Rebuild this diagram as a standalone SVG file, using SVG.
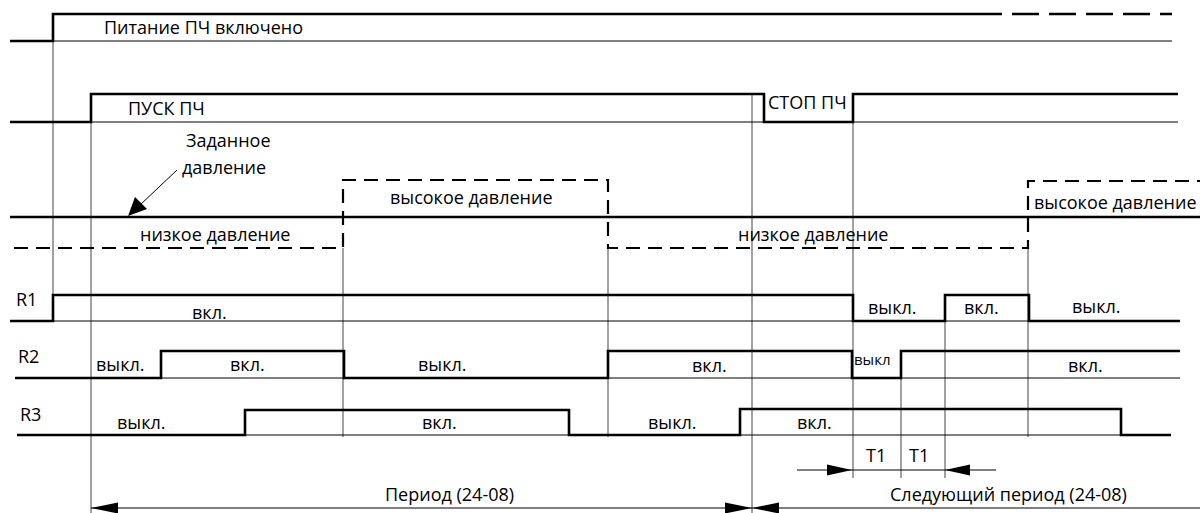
<svg xmlns="http://www.w3.org/2000/svg" width="1203" height="513" viewBox="0 0 1203 513">
<style>
.sig{fill:none;stroke:#000;stroke-width:2.6;stroke-linejoin:miter}
.dash{fill:none;stroke:#000;stroke-width:2.2;stroke-dasharray:14 8}
.base{fill:none;stroke:#000;stroke-width:1}
.grid{fill:none;stroke:#444;stroke-width:1}
.head{fill:#000;stroke:none}
.t{font-family:"Open Sans","Noto Sans",sans-serif;font-size:18px;fill:#000}
.s{font-size:15px}
</style>
<rect width="1203" height="513" fill="#fff"/>

<g id="grid">
<line class="grid" x1="53" y1="14" x2="53" y2="295"/>
<line class="grid" x1="91" y1="94" x2="91" y2="513"/>
<line class="grid" x1="343" y1="248" x2="343" y2="437"/>
<line class="grid" x1="608" y1="248" x2="608" y2="437"/>
<line class="grid" x1="752" y1="94" x2="752" y2="513"/>
<line class="grid" x1="853" y1="94" x2="853" y2="478"/>
<line class="grid" x1="901" y1="351" x2="901" y2="478"/>
<line class="grid" x1="945" y1="295" x2="945" y2="478"/>
<line class="grid" x1="1028" y1="248" x2="1028" y2="437"/>
</g>

<g id="power">
<polyline class="sig" points="10,41 53,41 53,14 975,14"/>
<line class="sig" x1="975" y1="14" x2="1172" y2="14" stroke-dasharray="27 10"/>
<line class="base" x1="53" y1="41" x2="1172" y2="41"/>
<text class="t" x="104" y="34">Питание ПЧ включено</text>
</g>

<g id="start">
<polyline class="sig" points="10,122 91,122 91,94 764,94 764,122 853,122 853,94 1178,94"/>
<line class="base" x1="91" y1="122" x2="1178" y2="122"/>
<text class="t" x="128" y="115">ПУСК ПЧ</text>
<text class="t" x="768" y="109">СТОП ПЧ</text>
</g>

<g id="pressure">
<line class="sig" x1="10" y1="217" x2="1200" y2="217"/>
<polyline class="dash" points="14,248 343,248 343,180 608,180 608,248 1028,248 1028,181 1200,181"/>
<text class="t" x="140" y="241">низкое давление</text>
<text class="t" x="390" y="204">высокое давление</text>
<text class="t" x="738" y="241">низкое давление</text>
<text class="t" x="1034" y="209">высокое давление</text>
<text class="t" x="186" y="147">Заданное</text>
<text class="t" x="182" y="174">давление</text>
</g>

<g id="R1">
<polyline class="sig" points="10,321 53,321 53,295 853,295 853,321 945,321 945,295 1029,295 1029,321 1180,321"/>
<line class="base" x1="53" y1="321" x2="1180" y2="321"/>
<text class="t" x="16" y="306">R1</text>
<text class="t" x="192" y="319">вкл.</text>
<text class="t" x="868" y="314">выкл.</text>
<text class="t" x="964" y="314">вкл.</text>
<text class="t" x="1072" y="313">выкл.</text>
</g>

<g id="R2">
<polyline class="sig" points="15,378 161,378 161,351 344,351 344,378 608,378 608,351 852,351 852,378 901,378 901,351 1180,351"/>
<line class="base" x1="15" y1="378" x2="1180" y2="378"/>
<text class="t" x="18" y="363">R2</text>
<text class="t" x="96" y="371">выкл.</text>
<text class="t" x="230" y="371">вкл.</text>
<text class="t" x="418" y="371">выкл.</text>
<text class="t" x="692" y="372">вкл.</text>
<text class="t s" x="854" y="365">выкл</text>
<text class="t" x="1068" y="372">вкл.</text>
</g>

<g id="R3">
<polyline class="sig" points="17,435 245,435 245,410 569,410 569,435 740,435 740,409 1121,409 1121,435 1171,435"/>
<line class="base" x1="17" y1="435" x2="1171" y2="435"/>
<text class="t" x="20" y="421">R3</text>
<text class="t" x="117" y="429">выкл.</text>
<text class="t" x="422" y="429">вкл.</text>
<text class="t" x="648" y="429">выкл.</text>
<text class="t" x="797" y="429">вкл.</text>
</g>

<g id="connectors">
<line class="base" x1="177" y1="170" x2="140" y2="205" stroke-width="1.8"/>
<polygon class="head" points="128,216 135,197 147,209"/>
<line class="base" x1="797" y1="470" x2="945" y2="470"/>
<polygon class="head" points="852,470 827,464.5 827,475.5"/>
<line class="base" x1="945" y1="470" x2="996" y2="470" stroke="#777"/>
<polygon class="head" points="945,470 970,464.5 970,475.5"/>
<line class="base" x1="91" y1="508" x2="1200" y2="508" stroke="#444"/>
<polygon class="head" points="91,508 118,502.5 118,513.5"/>
<polygon class="head" points="752,508 725,502.5 725,513.5"/>
<polygon class="head" points="752,508 779,502.5 779,513.5"/>
<text class="t" x="866" y="462">T1</text>
<text class="t" x="909" y="462">T1</text>
<text class="t" x="385" y="501">Период (24-08)</text>
<text class="t" x="890" y="501">Следующий период (24-08)</text>
</g>
</svg>
